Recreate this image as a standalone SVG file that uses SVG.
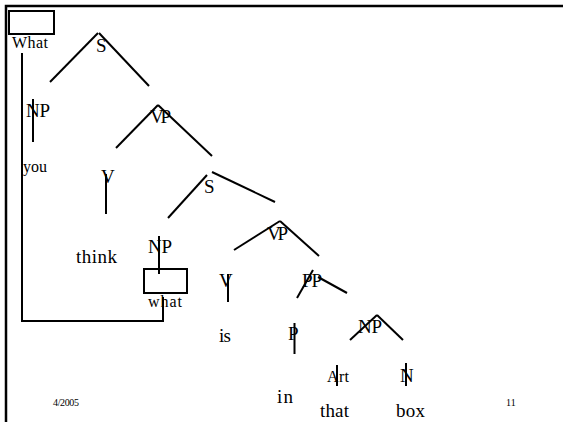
<svg xmlns="http://www.w3.org/2000/svg" width="563" height="422" viewBox="0 0 563 422">
<style>
text{font-family:"Liberation Serif","Times New Roman",serif;fill:#000}
.c{font-size:19px}
.w{font-size:19px}
.s{font-size:16px}
.f{font-size:10px}
line,polyline,rect{stroke:#000;stroke-width:2;fill:none}
.b{stroke-width:2.5}
</style>
<rect width="563" height="422" fill="#fff" style="stroke:none"/>
<g id="border"><polyline class="b" points="6,422 6,6 563,6"/></g>
<g id="connectors">
<line x1="98" y1="33" x2="50" y2="82"/>
<line x1="99" y1="33" x2="149" y2="86"/>
<line x1="33" y1="99" x2="33" y2="142"/>
<line x1="158" y1="105" x2="116" y2="148"/>
<line x1="158" y1="105" x2="212" y2="156"/>
<line x1="106" y1="174" x2="106" y2="214"/>
<line x1="207" y1="175" x2="168" y2="218"/>
<line x1="212" y1="172" x2="275" y2="202"/>
<line x1="159" y1="236" x2="159" y2="274"/>
<line x1="280" y1="221" x2="234" y2="250"/>
<line x1="280" y1="221" x2="319" y2="256"/>
<line x1="228" y1="274" x2="228" y2="302"/>
<line x1="313" y1="270" x2="297" y2="298"/>
<line x1="318" y1="277" x2="347" y2="293"/>
<line x1="294.5" y1="323" x2="294.5" y2="354"/>
<line x1="377" y1="315" x2="350" y2="340"/>
<line x1="377" y1="315" x2="403" y2="340"/>
<line x1="337" y1="365" x2="337" y2="386"/>
<line x1="406" y1="363" x2="406" y2="386"/>
<polyline points="22,53 22,321 163,321 163,297"/>
</g>
<g id="n-What"><rect x="9" y="11" width="45" height="23"/><text class="s" x="12" y="48" textLength="36">What</text></g>
<g id="n-S1"><text class="c" x="96" y="52">S</text></g>
<g id="n-NP1"><text class="c" x="26" y="117" textLength="24">NP</text></g>
<g id="n-you"><text class="s" x="23" y="172" textLength="24">you</text></g>
<g id="n-VP1"><text class="c" x="150" y="123" textLength="21">VP</text></g>
<g id="n-V1"><text class="c" x="101" y="183">V</text></g>
<g id="n-think"><text class="w" x="76" y="263" textLength="41">think</text></g>
<g id="n-S2"><text class="c" x="204" y="193">S</text></g>
<g id="n-NP2"><text class="c" x="148" y="253" textLength="24">NP</text></g>
<g id="n-what"><rect x="144" y="269" width="43" height="24"/><text class="s" x="148" y="307" textLength="34">what</text></g>
<g id="n-VP2"><text class="c" x="267" y="240" textLength="21">VP</text></g>
<g id="n-V2"><text class="c" x="219" y="287">V</text></g>
<g id="n-is"><text class="w" x="219" y="342" textLength="12">is</text></g>
<g id="n-PP"><text class="c" x="302" y="287" textLength="20">PP</text></g>
<g id="n-P"><text class="c" x="288" y="340">P</text></g>
<g id="n-in"><text class="w" x="277" y="403" textLength="16">in</text></g>
<g id="n-NP3"><text class="c" x="358" y="333" textLength="24">NP</text></g>
<g id="n-Art"><text class="s" x="327" y="382" textLength="22">Art</text></g>
<g id="n-that"><text class="w" x="320" y="417" textLength="29">that</text></g>
<g id="n-N"><text class="c" x="400" y="382">N</text></g>
<g id="n-box"><text class="w" x="396" y="417" textLength="29">box</text></g>
<g id="footer"><text class="f" x="53" y="406" textLength="26">4/2005</text><text class="f" x="506" y="406">11</text></g>
</svg>
